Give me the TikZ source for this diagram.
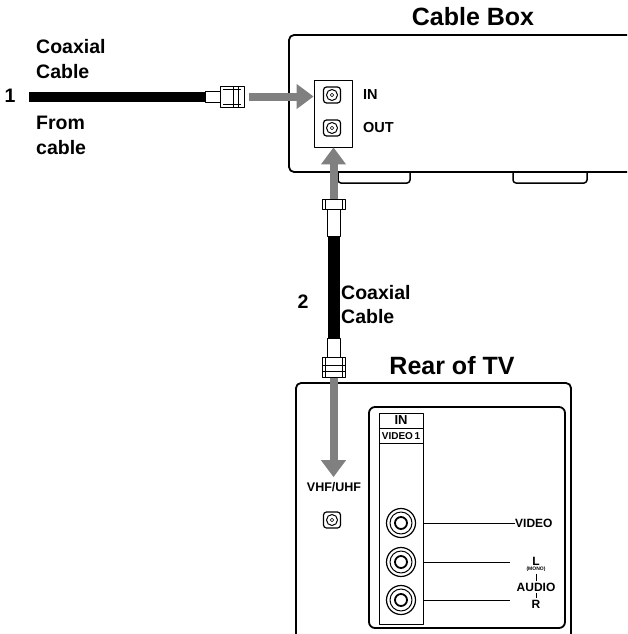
\documentclass[tikz,border=0pt]{standalone}
\usepackage{fontspec}
\setmainfont{Liberation Sans}
\usetikzlibrary{arrows.meta}
\tikzset{
  title/.style={font=\bfseries\fontsize{25}{26}\selectfont},
  biglbl/.style={font=\bfseries\fontsize{19.5}{20}\selectfont, anchor=west},
  num/.style={font=\bfseries\fontsize{19.5}{20}\selectfont},
  portlbl/.style={font=\bfseries\fontsize{14.5}{15}\selectfont, anchor=west},
  jacklbl/.style={font=\bfseries\fontsize{12}{13}\selectfont},
  feed/.style={draw=black!50, line width=8, -{Triangle[width=24pt,length=17pt]}},
  cable/.style={draw=black, line width=10},
  fjack/.style={draw, rectangle, rounded corners=3, line width=1.2, minimum width=17, minimum height=16,
    path picture={\draw[line width=1] (path picture bounding box.center) circle (5.5pt);
      \draw[line width=0.6] (path picture bounding box.center) circle (1.8pt);}},
  rca/.style={draw, circle, line width=1.2, minimum size=29, fill=white,
    path picture={\draw[line width=1] (path picture bounding box.center) circle (11pt);
      \draw[line width=1.8] (path picture bounding box.center) circle (6pt);}},
  nut/.style={draw, rectangle, line width=1, fill=white},
  sleeve/.style={draw, rectangle, line width=1, fill=white},
}
\begin{document}
\begin{tikzpicture}[x=1pt,y=-1pt,line join=round]
    \tikzstyle{every node}+=[inner sep=0pt]
    \useasboundingbox (0,0) rectangle (627,634);
    \clip (0,0) rectangle (627,634);
    % cable box
    \node[title] (boxtitle) at (473,17) {Cable Box};
    \draw[line width=1.8, rounded corners=5] (289,35) rectangle (680,172);
    \draw[line width=1.5, rounded corners=3] (338,172) -- (338,183) -- (410,183) -- (410,172);
    \draw[line width=1.5, rounded corners=3] (513,172) -- (513,183) -- (587,183) -- (587,172);
    \node[draw, line width=0.8, minimum width=38, minimum height=67] (panel) at (333,113.5) {};
    \node[fjack] (in) at (332,95) {};
    \node[fjack] (out) at (332,128) {};
    \node[portlbl] (inlbl) at (363,95) {IN};
    \node[portlbl] (outlbl) at (363,128) {OUT};
    % cable 1
    \node[num] (one) at (10,96) {1};
    \node[biglbl] (coax1) at (36,47) {Coaxial};
    \node[biglbl] (cable1) at (36,72) {Cable};
    \node[biglbl] (from) at (36,123) {From};
    \node[biglbl] (fromcable) at (36,148) {cable};
    \coordinate (end1) at (29,96.5);
    \node[sleeve, minimum width=15, minimum height=11] (sleeve1) at (212.5,96.5) {};
    \node[nut, minimum width=24, minimum height=21] (nut1) at (232,96.5) {};
    \draw[line width=0.6] (223,89) -- (241,89) (223,104) -- (241,104) (233,86) -- (233,107) (238,86) -- (238,107);
    \draw[cable] (end1) -- (sleeve1.west);
    \draw[feed, shorten <=4] (nut1.east) -- (nut1.east -| panel.west);
    % cable 2
    \node[nut, minimum width=23, minimum height=10] (nut2a) at (333.5,204) {};
    \node[sleeve, minimum width=13, minimum height=27] (sleeve2a) at (333.5,222.5) {};
    \node[sleeve, minimum width=13, minimum height=19] (sleeve2b) at (333.5,347.5) {};
    \node[nut, minimum width=23, minimum height=20] (nut2b) at (333.5,367) {};
    \draw[line width=0.6] (325,199) -- (325,209) (342,199) -- (342,209);
    \draw[line width=0.6] (325,357) -- (325,377) (342,357) -- (342,377) (322,365) -- (345,365) (322,371) -- (345,371);
    \draw[cable, line width=12] (sleeve2a.south) -- (sleeve2b.north);
    \draw[feed] (nut2a.north) -- (nut2a.north |- panel.south);
    \node[num] (two) at (303,302) {2};
    \node[biglbl] (coax2) at (341,293) {Coaxial};
    \node[biglbl] (cable2) at (341,317) {Cable};
    % rear of tv
    \node[title] (tvtitle) at (452,366) {Rear of TV};
    \draw[line width=1.8, rounded corners=5] (296,680) -- (296,383) -- (571,383) -- (571,680);
    \draw[line width=1.8, rounded corners=6] (369,407) rectangle (565,628);
    \node[draw, line width=0.8, minimum width=44, minimum height=211, anchor=north west] (col) at (379,413) {};
    \draw[line width=0.8] (379,428) -- (423,428) (379,443) -- (423,443);
    \node[font=\bfseries\fontsize{13}{14}\selectfont] (inhdr) at (401,420.5) {IN};
    \node[font=\bfseries\fontsize{10}{11}\selectfont] (vid1) at (401,436) {VIDEO\,1};
    \node[font=\bfseries\fontsize{12.5}{13}\selectfont] (vhf) at (334,487) {VHF/UHF};
    \node[fjack] (ant) at (332,520) {};
    \draw[feed, shorten >=5] (nut2b.south) -- (nut2b.south |- vhf.north);
    \node[rca] (video) at (401,523) {};
    \node[rca] (audl) at (401,562) {};
    \node[rca] (audr) at (401,600) {};
    \node[jacklbl, anchor=west] (videolbl) at (515,523) {VIDEO};
    \node[jacklbl] (llbl) at (536,561) {L};
    \node[font=\bfseries\fontsize{5}{5}\selectfont] (mono) at (536,569.5) {(MONO)};
    \node[jacklbl] (audio) at (536,587) {AUDIO};
    \node[jacklbl] (rlbl) at (536,604) {R};
    \draw[line width=0.8] (col.east |- video) -- (videolbl.west);
    \draw[line width=0.8, shorten >=6] (col.east |- audl) -- (audl -| audio.west);
    \draw[line width=0.8, shorten >=6] (col.east |- audr) -- (audr -| audio.west);
    \draw[line width=0.8, shorten <=1.5, shorten >=1.5] (mono.south) -- (audio.north);
    \draw[line width=0.8, shorten <=1.5, shorten >=1.5] (audio.south) -- (rlbl.north);
\end{tikzpicture}
\end{document}
